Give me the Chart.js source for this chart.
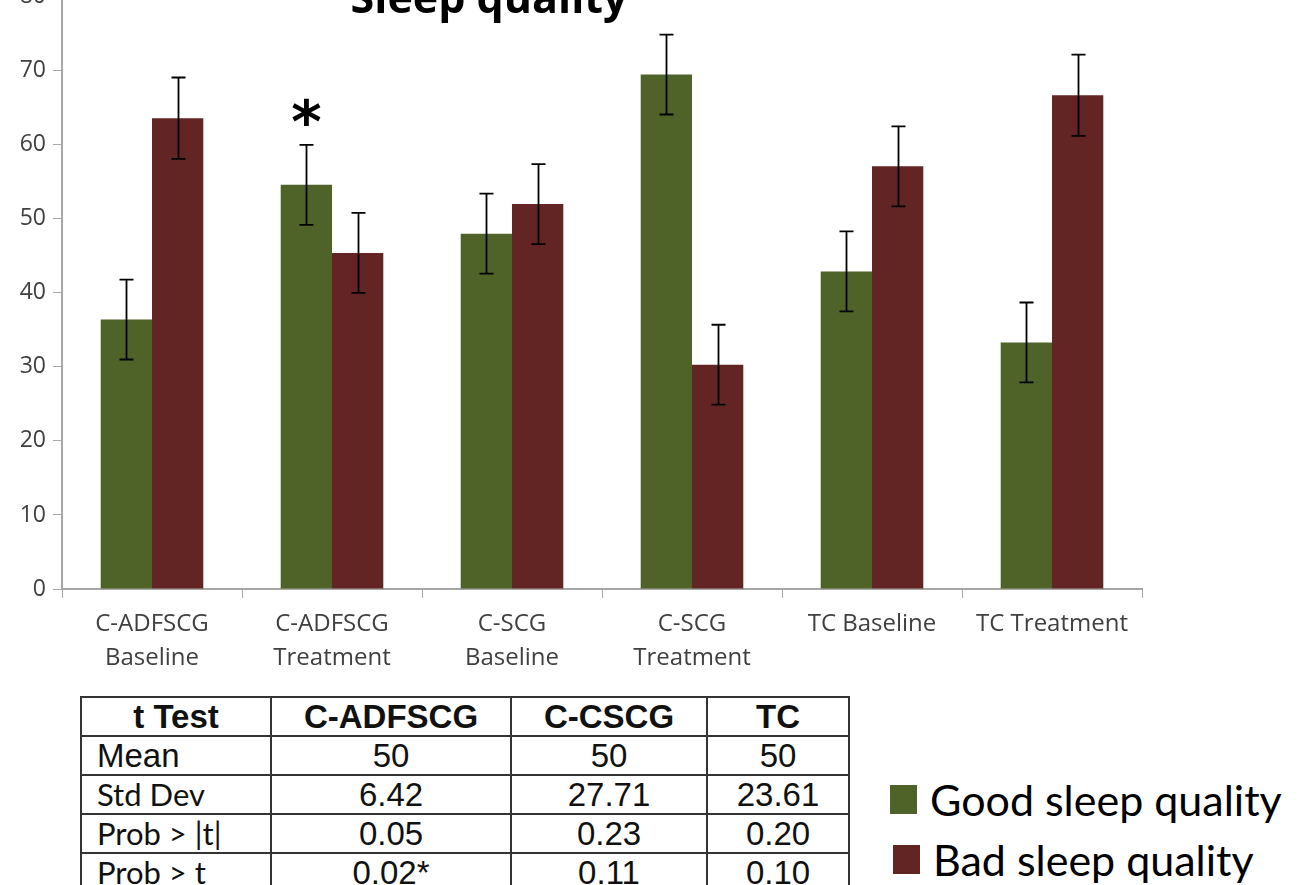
<!DOCTYPE html>
<html>
<head>
<meta charset="utf-8">
<script src="https://cdn.jsdelivr.net/npm/chart.js@4.4.0/dist/chart.umd.min.js"></script>
<style>
  html, body { margin: 0; padding: 0; background: #fff; width: 1315px; height: 885px; overflow: hidden; position: relative; }
  #wrap { position: absolute; left: 0; top: -24px; width: 1315px; height: 703px; }
  table.tt { position: absolute; left: 80px; top: 696px; border-collapse: collapse; font-family: "Liberation Sans", Arial, sans-serif; color: #111; table-layout: fixed; }
  table.tt td { border: 2px solid #333; height: 37px; padding: 0; text-align: center; font-size: 33px; line-height: 33px; overflow: hidden; white-space: nowrap; }
  table.tt tr.hd td { font-weight: bold; font-size: 33px; }
  table.tt td.lbl { text-align: left; padding-left: 15px; }
  table.tt td.cal { font-family: "Lato", "Open Sans", sans-serif; font-size: 31px; }
  .leg { position: absolute; font-family: "Lato", "Open Sans", sans-serif; font-size: 43px; color: #000; display: flex; align-items: center; white-space: nowrap; }
  .leg span.sw { display: inline-block; width: 27px; height: 29px; margin-right: 13px; }
</style>
</head>
<body>
<div id="wrap"><canvas id="c" width="1315" height="703"></canvas></div>

<table class="tt" id="tt"></table>
<div class="leg" id="leg1" style="left:890px; top:774px;"></div>
<div class="leg" id="leg2" style="left:893px; top:834px;"></div>

<script>
// ---- data ----
const categories = [
  ["C-ADFSCG", "Baseline"],
  ["C-ADFSCG", "Treatment"],
  ["C-SCG", "Baseline"],
  ["C-SCG", "Treatment"],
  "TC Baseline",
  "TC Treatment"
];
const seriesNames = ["Good sleep quality", "Bad sleep quality"];
const goodSleep = [36.4, 54.6, 48.0, 69.5, 42.9, 33.3];
const badSleep  = [63.6, 45.4, 52.0, 30.3, 57.1, 66.7];
const goodErr   = [5.4, 5.4, 5.4, 5.4, 5.4, 5.4];
const badErr    = [5.5, 5.4, 5.4, 5.4, 5.4, 5.5];
const sigMarks  = ["", "*", "", "", "", ""];
const yTicks    = [0, 10, 20, 30, 40, 50, 60, 70, 80];
const chartTitle = "Sleep quality";

const tableHeader = ["t Test", "C-ADFSCG", "C-CSCG", "TC"];
const tableRowLabels = ["Mean", "Std Dev", "Prob > |t|", "Prob > t"];
const tableADFSCG = ["50", "6.42", "0.05", "0.02*"];
const tableCSCG   = ["50", "27.71", "0.23", "0.11"];
const tableTC     = ["50", "23.61", "0.20", "0.10"];

const colors = ["#4f6228", "#632523"];

// ---- plugins ----
const errorBars = {
  id: "errorBars",
  afterDatasetsDraw(chart) {
    const ctx = chart.ctx;
    const y = chart.scales.y;
    const errs = [goodErr, badErr];
    ctx.save();
    ctx.strokeStyle = "#000";
    ctx.lineWidth = 1.8;
    chart.data.datasets.forEach((ds, di) => {
      const meta = chart.getDatasetMeta(di);
      meta.data.forEach((bar, i) => {
        const v = ds.data[i], e = errs[di][i];
        const yt = y.getPixelForValue(v + e), yb = y.getPixelForValue(v - e);
        const x = Math.round(bar.x) + 0.5;
        ctx.beginPath();
        ctx.moveTo(x, yt); ctx.lineTo(x, yb);
        ctx.moveTo(x - 7, yt); ctx.lineTo(x + 7, yt);
        ctx.moveTo(x - 7, yb); ctx.lineTo(x + 7, yb);
        ctx.stroke();
      });
    });
    // significance marks
    const meta0 = chart.getDatasetMeta(0);
    ctx.fillStyle = "#000";
    ctx.font = "bold 58px 'DejaVu Sans'";
    ctx.textAlign = "center";
    ctx.textBaseline = "middle";
    sigMarks.forEach((m, i) => {
      if (!m) return;
      const bar = meta0.data[i];
      const yt = y.getPixelForValue(goodSleep[i] + goodErr[i]);
      ctx.fillText(m, bar.x, yt - 18);
    });
    // title
    ctx.font = "bold 43px 'Open Sans'";
    ctx.textBaseline = "alphabetic";
    ctx.fillText(chartTitle, 489, 37);
    ctx.restore();
  }
};

new Chart(document.getElementById("c"), {
  type: "bar",
  data: {
    labels: categories,
    datasets: [
      { label: seriesNames[0], data: goodSleep, backgroundColor: colors[0] },
      { label: seriesNames[1], data: badSleep, backgroundColor: colors[1] }
    ]
  },
  options: {
    responsive: false,
    animation: false,
    events: [],
    layout: { padding: { top: 20, right: 173, left: 0, bottom: 0 } },
    plugins: { legend: { display: false }, title: { display: false }, tooltip: { enabled: false } },
    datasets: { bar: { categoryPercentage: 0.57, barPercentage: 1.0 } },
    scales: {
      x: {
        grid: { display: true, drawOnChartArea: false, drawTicks: true, tickLength: 9, color: "#a6a6a6", offset: true },
        border: { color: "#a6a6a6", width: 2 },
        ticks: { color: "#404040", font: { family: "Open Sans", size: 24, lineHeight: 1.42 }, maxRotation: 0, autoSkip: false, padding: 9 },
        afterFit(s) { s.height = 90; }
      },
      y: {
        min: 0, max: 80,
        afterBuildTicks(s) { s.ticks = yTicks.map(v => ({ value: v })); },
        grid: { display: true, drawOnChartArea: false, drawTicks: true, tickLength: 9, color: "#a6a6a6" },
        border: { color: "#a6a6a6", width: 2 },
        ticks: { color: "#404040", font: { family: "Open Sans", size: 23 }, padding: 7 },
        afterFit(s) { s.width = 62; }
      }
    }
  },
  plugins: [errorBars]
});

// ---- table ----
const tt = document.getElementById("tt");
const widths = [190, 240, 196, 142];
let html = "<colgroup>" + widths.map(w => `<col style="width:${w}px">`).join("") + "</colgroup>";
html += "<tr class='hd'>" + tableHeader.map(h => `<td>${h}</td>`).join("") + "</tr>";
tableRowLabels.forEach((lab, r) => {
  const cls = r === 0 ? "lbl" : "lbl cal";
  html += `<tr><td class="${cls}">${lab}</td><td>${tableADFSCG[r]}</td><td>${tableCSCG[r]}</td><td>${tableTC[r]}</td></tr>`;
});
tt.innerHTML = html;
tt.style.width = widths.reduce((a, b) => a + b, 0) + "px";

// ---- legend ----
document.getElementById("leg1").innerHTML = `<span class="sw" style="background:${colors[0]}"></span>${seriesNames[0]}`;
document.getElementById("leg2").innerHTML = `<span class="sw" style="background:${colors[1]}"></span>${seriesNames[1]}`;
</script>
</body>
</html>
